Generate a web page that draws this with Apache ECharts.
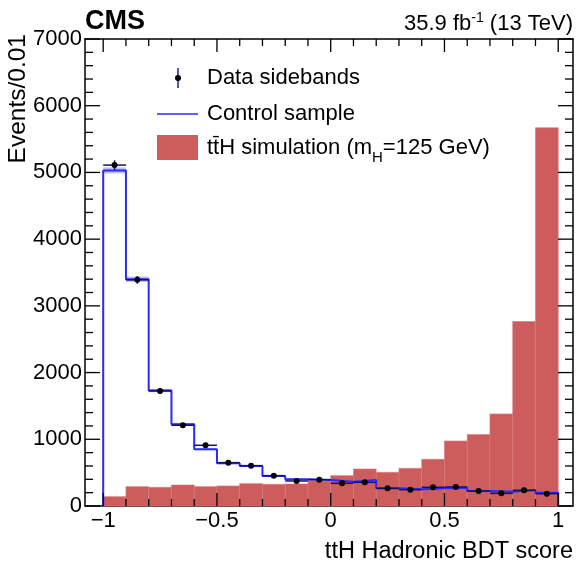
<!DOCTYPE html>
<html>
<head>
<meta charset="utf-8">
<script src="https://cdn.jsdelivr.net/npm/echarts@6/dist/echarts.min.js"></script>
<style>
html,body{margin:0;padding:0;background:#fff;}
#chart{width:577px;height:563px;}
#err{position:absolute;left:2px;bottom:2px;font:9px monospace;color:#888;}
</style>
</head>
<body>
<div id="chart"></div>
<div id="err"></div>
<script>
// Bin edges of the BDT score histogram
const binEdges = [-1.0,-0.9,-0.8,-0.7,-0.6,-0.5,-0.4,-0.3,-0.2,-0.1,0.0,0.1,0.2,0.3,0.4,0.5,0.6,0.7,0.8,0.9,1.0];
// Data sidebands (points) and their statistical errors
const dataVals = [5110,3390,1725,1210,910,650,605,455,375,395,340,355,265,245,280,285,225,190,235,185];
const dataErrs = [72,58,42,35,30,26,25,21,19,20,18,19,16,16,17,17,15,14,15,14];
// Control sample (blue step line) and its uncertainty band
const controlVals = [5030,3400,1730,1225,850,640,600,450,400,390,365,390,265,250,265,275,225,215,240,200];
const controlErrs = [45,40,25,20,15,12,12,10,10,10,10,10,8,8,8,8,8,8,8,8];
// ttH simulation (red filled histogram)
const tthVals = [140,290,280,315,290,300,335,325,330,375,455,555,505,565,700,975,1070,1380,2765,5670];
// Axis ticks and tick labels
const xMajorTicks = [-1,-0.5,0,0.5,1];
const xTickLabels = ['\u22121','\u22120.5','0','0.5','1'];
const yMajorTicks = [0,1000,2000,3000,4000,5000,6000,7000];
const yTickLabels = ['0','1000','2000','3000','4000','5000','6000','7000'];
const yMinorStep = 200;
const yTickInterval = 1000;

const FONT = "'Liberation Sans', Arial, Helvetica, sans-serif";
const XMIN = -1.08, XMAX = 1.065, YMIN = 0, YMAX = 7000;
const errs = [];

const nb = dataVals.length;
const tthData = [], bandData = [], pointData = [], stepLine = [];
for (let i = 0; i < nb; i++) {
  const lo = binEdges[i], hi = binEdges[i+1];
  tthData.push([lo, hi, tthVals[i]]);
  bandData.push([lo, hi, controlVals[i] - controlErrs[i], controlVals[i] + controlErrs[i]]);
  pointData.push([lo, hi, dataVals[i], dataErrs[i]]);
}
stepLine.push([binEdges[0], 0]);
for (let i = 0; i < nb; i++) {
  stepLine.push([binEdges[i], controlVals[i]]);
  stepLine.push([binEdges[i+1], controlVals[i]]);
}
stepLine.push([binEdges[nb], 0]);

const AXLINE = {show:true, onZero:false, lineStyle:{color:'#000', width:1.5}};
function xAxisDef(pos){
  return {type:'value', min:XMIN, max:XMAX, position:pos, axisLine:AXLINE,
    splitLine:{show:false}, axisTick:{show:false}, axisLabel:{show:false}};
}
function yAxisDef(pos){
  return {type:'value', min:YMIN, max:YMAX, interval:yTickInterval, position:pos, axisLine:AXLINE,
    splitLine:{show:false}, axisTick:{show:false}, axisLabel:{show:false}};
}

const baseGraphics = [
  {type:'text', left:85, top:8, style:{text:'CMS', fontSize:27, fontWeight:'bold', fontFamily:FONT, fill:'#000'}},
  {type:'text', x:573, y:24, style:{
    text:'35.9 fb{sup|-1} (13 TeV)', align:'right', verticalAlign:'middle', fontSize:22, fontFamily:FONT, fill:'#000', lineHeight:26,
    rich:{sup:{fontSize:14, lineHeight:14, verticalAlign:'top', fontFamily:FONT, fill:'#000'}}}},
  {type:'text', x:18, y:34, rotation:Math.PI/2, style:{
    text:'Events/0.01', align:'right', verticalAlign:'middle', fontSize:24.5, fontFamily:FONT, fill:'#000'}},
  {type:'text', x:573, y:552, style:{
    text:'ttH Hadronic BDT score', align:'right', verticalAlign:'middle', fontSize:23.5, fontFamily:FONT, fill:'#000'}},
  // legend
  {type:'line', shape:{x1:178, y1:68, x2:178, y2:88}, style:{stroke:'#1a1aa0', lineWidth:1.5}},
  {type:'circle', shape:{cx:178, cy:78, r:3}, style:{fill:'#000'}},
  {type:'text', x:207, y:78, style:{text:'Data sidebands', verticalAlign:'middle', fontSize:22, fontFamily:FONT, fill:'#000'}},
  {type:'line', shape:{x1:157, y1:114, x2:198, y2:114}, style:{stroke:'#2a2aff', lineWidth:1.5}},
  {type:'text', x:207, y:114, style:{text:'Control sample', verticalAlign:'middle', fontSize:22, fontFamily:FONT, fill:'#000'}},
  {type:'rect', shape:{x:157, y:135, width:41, height:25}, style:{fill:'#cd5c5c'}},
  {type:'text', x:207, y:148, style:{
    text:'tt\u0304H simulation (m{sub|H}=125 GeV)', verticalAlign:'middle', fontSize:22, fontFamily:FONT, fill:'#000', lineHeight:34,
    rich:{sub:{fontSize:15, lineHeight:14, verticalAlign:'bottom', fontFamily:FONT, fill:'#000'}}}}
];

const chart = echarts.init(document.getElementById('chart'), null, {renderer:'canvas'});
const option = {
  backgroundColor:'#fff',
  animation:false,
  grid:{left:85, right:4, top:39, bottom:57, show:false},
  xAxis:[ xAxisDef('bottom'), xAxisDef('top') ],
  yAxis:[ yAxisDef('left'), yAxisDef('right') ],
  series:[
    {
      type:'custom', name:'ttH', xAxisIndex:0, yAxisIndex:0, z:1,
      data:tthData,
      renderItem:function(params, api){
        const p0 = api.coord([api.value(0), api.value(2)]);
        const p1 = api.coord([api.value(1), 0]);
        return {type:'rect', shape:{x:p0[0], y:p0[1], width:p1[0]-p0[0], height:p1[1]-p0[1]},
          style:{fill:'#cd5c5c', stroke:'#d87a7a', lineWidth:0.6}};
      }
    },
    {
      type:'custom', name:'band', xAxisIndex:0, yAxisIndex:0, z:2,
      data:bandData,
      renderItem:function(params, api){
        const p0 = api.coord([api.value(0), api.value(3)]);
        const p1 = api.coord([api.value(1), api.value(2)]);
        return {type:'rect', shape:{x:p0[0], y:p0[1], width:p1[0]-p0[0], height:p1[1]-p0[1]},
          style:{fill:'rgba(110,110,255,0.45)'}};
      }
    },
    {
      type:'line', name:'Control sample', xAxisIndex:0, yAxisIndex:0, z:3,
      data:stepLine, showSymbol:false, symbol:'none',
      lineStyle:{color:'#2a2aff', width:2}
    },
    {
      type:'custom', name:'Data sidebands', xAxisIndex:0, yAxisIndex:0, z:4,
      data:pointData,
      renderItem:function(params, api){
        const lo = api.value(0), hi = api.value(1), v = api.value(2), e = api.value(3);
        const c = (lo + hi) / 2;
        const pl = api.coord([lo, v]), pr = api.coord([hi, v]);
        const pt = api.coord([c, v + e]), pb = api.coord([c, v - e]);
        const pc = api.coord([c, v]);
        return {type:'group', children:[
          {type:'line', shape:{x1:pl[0], y1:pl[1], x2:pr[0], y2:pr[1]}, style:{stroke:'#12126a', lineWidth:1.5}},
          {type:'line', shape:{x1:pt[0], y1:pt[1], x2:pb[0], y2:pb[1]}, style:{stroke:'#12126a', lineWidth:1.5}},
          {type:'circle', shape:{cx:pc[0], cy:pc[1], r:3}, style:{fill:'#000'}}
        ]};
      }
    }
  ],
  graphic: baseGraphics
};
try { chart.setOption(option); } catch (e) { errs.push('opt: ' + e.message); }

// Tick marks and tick labels, positioned through the chart's own axis scales
const extra = [];
try {
  const finder = {gridIndex:0};
  const px = function(x, y){ return chart.convertToPixel(finder, [x, y]); };
  binEdges.forEach(function(v){
    const major = xMajorTicks.some(function(m){ return Math.abs(m - v) < 1e-9; });
    const len = major ? 13 : 7;
    const b = px(v, YMIN), t = px(v, YMAX);
    extra.push({type:'line', z:50, shape:{x1:b[0], y1:b[1], x2:b[0], y2:b[1]-len}, style:{stroke:'#000', lineWidth:1.3}});
    extra.push({type:'line', z:50, shape:{x1:t[0], y1:t[1], x2:t[0], y2:t[1]+len}, style:{stroke:'#000', lineWidth:1.3}});
  });
  for (let v = YMIN; v <= YMAX + 1e-9; v += yMinorStep) {
    const major = yMajorTicks.indexOf(v) >= 0;
    const len = major ? 15 : 8;
    const l = px(XMIN, v), r = px(XMAX, v);
    extra.push({type:'line', z:50, shape:{x1:l[0], y1:l[1], x2:l[0]+len, y2:l[1]}, style:{stroke:'#000', lineWidth:1.3}});
    extra.push({type:'line', z:50, shape:{x1:r[0], y1:r[1], x2:r[0]-len, y2:r[1]}, style:{stroke:'#000', lineWidth:1.3}});
  }
  xMajorTicks.forEach(function(v, i){
    const p = px(v, YMIN);
    extra.push({type:'text', z:50, x:p[0], y:p[1] + 4, style:{text:xTickLabels[i], align:'center', verticalAlign:'top', fontSize:22, fontFamily:FONT, fill:'#000'}});
  });
  yMajorTicks.forEach(function(v, i){
    const p = px(XMIN, v);
    extra.push({type:'text', z:50, x:p[0] - 3, y:p[1], style:{text:yTickLabels[i], align:'right', verticalAlign:'middle', fontSize:22, fontFamily:FONT, fill:'#000'}});
  });
  chart.setOption({graphic: baseGraphics.concat(extra)});
} catch (e) { errs.push('ticks: ' + e.message); }
if (errs.length) document.getElementById('err').textContent = errs.join(' | ');
</script>
</body>
</html>
